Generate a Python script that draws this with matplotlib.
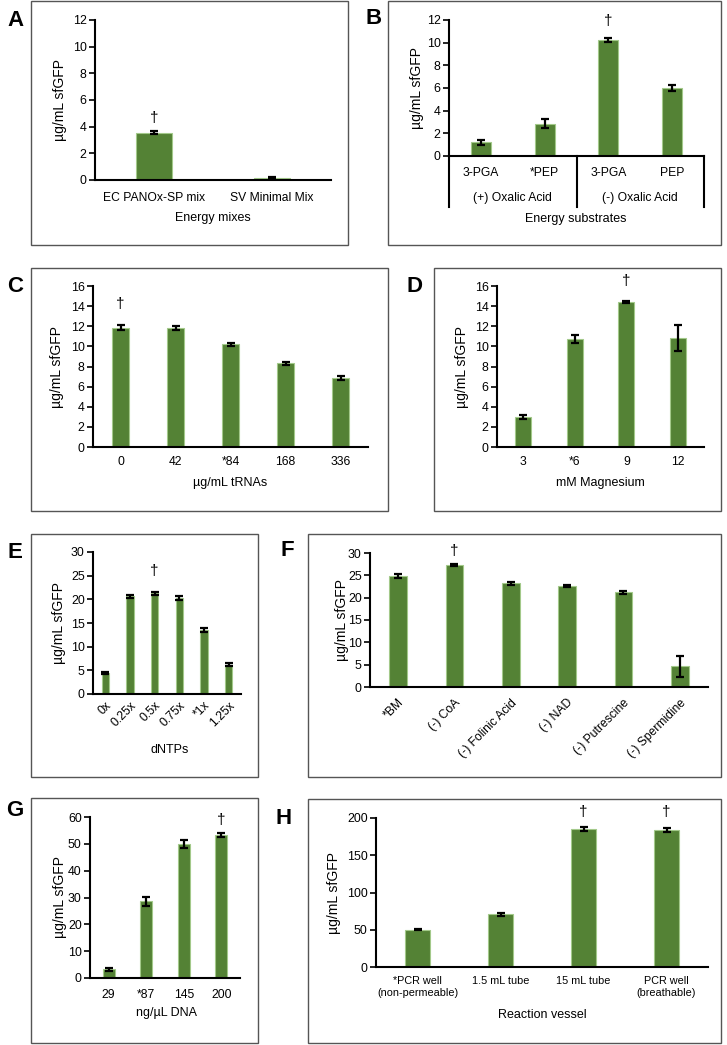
import numpy as np
import matplotlib.pyplot as plt
from matplotlib.patches import Rectangle
from matplotlib.lines import Line2D
import matplotlib.transforms as mtransforms

plt.rcParams['font.family'] = ['Liberation Sans', 'DejaVu Sans']

W, H = 727, 1045
GREEN = '#548235'
EDGE = '#a3c98a'

# --- data ---
a_labels = ['EC PANOx-SP mix', 'SV Minimal Mix']
a_vals = [3.55, 0.15]
a_err = [0.12, 0.06]

b_labels = ['3-PGA', '*PEP', '3-PGA', 'PEP']
b_groups = ['(+) Oxalic Acid', '(-) Oxalic Acid']
b_vals = [1.2, 2.85, 10.25, 6.0]
b_err = [0.2, 0.4, 0.2, 0.3]

c_labels = ['0', '42', '*84', '168', '336']
c_vals = [11.85, 11.85, 10.2, 8.3, 6.85]
c_err = [0.25, 0.2, 0.15, 0.15, 0.2]

d_labels = ['3', '*6', '9', '12']
d_vals = [2.95, 10.7, 14.4, 10.85]
d_err = [0.2, 0.4, 0.12, 1.3]

e_labels = ['0x', '0.25x', '0.5x', '0.75x', '*1x', '1.25x']
e_vals = [4.4, 20.6, 21.3, 20.3, 13.5, 6.2]
e_err = [0.25, 0.25, 0.35, 0.35, 0.45, 0.25]

f_labels = ['*BM', '(-) CoA', '(-) Folinic Acid', '(-) NAD', '(-) Putrescine', '(-) Spermidine']
f_vals = [24.8, 27.4, 23.2, 22.6, 21.2, 4.6]
f_err = [0.4, 0.2, 0.3, 0.2, 0.4, 2.3]

g_labels = ['29', '*87', '145', '200']
g_vals = [3.2, 28.6, 49.9, 53.2]
g_err = [0.5, 1.6, 1.5, 0.8]

h_labels = ['*PCR well\n(non-permeable)', '1.5 mL tube', '15 mL tube', 'PCR well\n(breathable)']
h_vals = [50, 70.5, 185.5, 183.5]
h_err = [1.0, 1.5, 2.5, 2.5]

# dagger marks: (bar index, y position)
a_dag = [(0, 4.65)]
b_dag = [(2, 11.9)]
c_dag = [(0, 14.2)]
d_dag = [(2, 16.5)]
e_dag = [(2, 26.0)]
f_dag = [(1, 30.4)]
g_dag = [(3, 59.0)]
h_dag = [(2, 208), (3, 208)]


def fx(x):
    return x / W


def fy(y):
    return 1 - y / H


fig = plt.figure(figsize=(7.27, 10.45), dpi=100)


def frame(x0, x1, y0, y1):
    fig.add_artist(Rectangle((fx(x0), fy(y1)), (x1 - x0) / W, (y1 - y0) / H,
                             transform=fig.transFigure, fill=False,
                             ec='#555555', lw=1.0))


def letter(s, x, y):
    fig.text(fx(x), fy(y), s, fontsize=16, fontweight='bold', ha='center', va='center')


def bar_axes(x0, x1, y0, y1, vals, errs, ymax, step, ylab_x, labels, pad,
             daggers, lsize=8.7):
    ax = fig.add_axes([fx(x0), fy(y1), (x1 - x0) / W, (y1 - y0) / H])
    n = len(vals)
    pos = np.arange(n)
    ax.bar(pos, vals, width=0.31, color=GREEN, edgecolor=EDGE, linewidth=0.8)
    ax.errorbar(pos, vals, yerr=errs, fmt='none', ecolor='black',
                elinewidth=1.6, capsize=3, capthick=1.6)
    ax.set_xlim(-0.5, n - 0.5)
    ax.set_ylim(0, ymax)
    ax.set_yticks(np.arange(0, ymax + step / 2, step))
    ax.set_xticks(pos, labels)
    for s in ['top', 'right']:
        ax.spines[s].set_visible(False)
    ax.spines['left'].set_linewidth(1.5)
    ax.spines['bottom'].set_linewidth(1.5)
    ax.tick_params(axis='y', direction='out', length=4, width=1.2, labelsize=8.9, pad=2)
    ax.tick_params(axis='x', length=0, labelsize=lsize, pad=pad)
    ax.patch.set_alpha(0)
    for i, yv in daggers:
        ax.text(i, yv, '\u2020', ha='center', va='center', fontsize=11, clip_on=False)
    fig.text(fx(ylab_x), fy((y0 + y1) / 2), 'µg/mL sfGFP', rotation=90,
             ha='center', va='center', fontsize=10)
    return ax


def xlabel(s, x, y):
    fig.text(fx(x), fy(y), s, ha='center', va='center', fontsize=9)


def rotate_labels(ax):
    for t in ax.get_xticklabels():
        t.set_rotation(45)
        t.set_ha('right')
        t.set_va('top')
        t.set_rotation_mode('anchor')


# A
frame(31, 348, 1, 245)
letter('A', 15, 20)
bar_axes(95, 331, 20, 180, a_vals, a_err, 12, 2, 60, a_labels, 8.5, a_dag)
xlabel('Energy mixes', 213, 218)

# B
frame(388, 721, 1, 245)
letter('B', 374, 19)
axb = bar_axes(449, 704, 20, 156, b_vals, b_err, 12, 2, 417, b_labels, 8, b_dag)
tb = mtransforms.blended_transform_factory(axb.transData, fig.transFigure)
for xv in [-0.5, 1.5, 3.5]:
    fig.add_artist(Line2D([xv, xv], [fy(156), fy(207)], transform=tb,
                          color='black', lw=1.5))
for k, g in enumerate(b_groups):
    fig.text(0.5 + 2 * k, fy(198), g, transform=tb, ha='center', va='center', fontsize=8.7)
xlabel('Energy substrates', 576, 219)

# C
frame(31, 388, 268, 511)
letter('C', 15, 287)
bar_axes(93, 368, 286, 447, c_vals, c_err, 16, 2, 57, c_labels, 6.5, c_dag)
xlabel('µg/mL tRNAs', 230, 483)

# D
frame(434, 721, 268, 511)
letter('D', 414, 287)
bar_axes(497, 704, 286, 447, d_vals, d_err, 16, 2, 462, d_labels, 6.5, d_dag)
xlabel('mM Magnesium', 600, 483)

# E
frame(31, 258, 534, 777)
letter('E', 15, 553)
axe = bar_axes(93, 241, 552, 694, e_vals, e_err, 30, 5, 59, e_labels, 4, e_dag)
rotate_labels(axe)
xlabel('dNTPs', 170, 750)

# F
frame(308, 721, 534, 777)
letter('F', 287, 550)
axf = bar_axes(370, 708, 553, 687, f_vals, f_err, 30, 5, 342, f_labels, 7, f_dag)
rotate_labels(axf)

# G
frame(31, 258, 798, 1043)
letter('G', 15, 810)
bar_axes(90, 240, 817, 978, g_vals, g_err, 60, 10, 60, g_labels, 8, g_dag)
xlabel('ng/µL DNA', 166, 1013)

# H
frame(308, 721, 799, 1043)
letter('H', 284, 818)
bar_axes(376, 708, 818, 967, h_vals, h_err, 200, 50, 334, h_labels, 6.5, h_dag, lsize=7.8)
xlabel('Reaction vessel', 542, 1015)

fig.savefig('out.png', dpi=100)
